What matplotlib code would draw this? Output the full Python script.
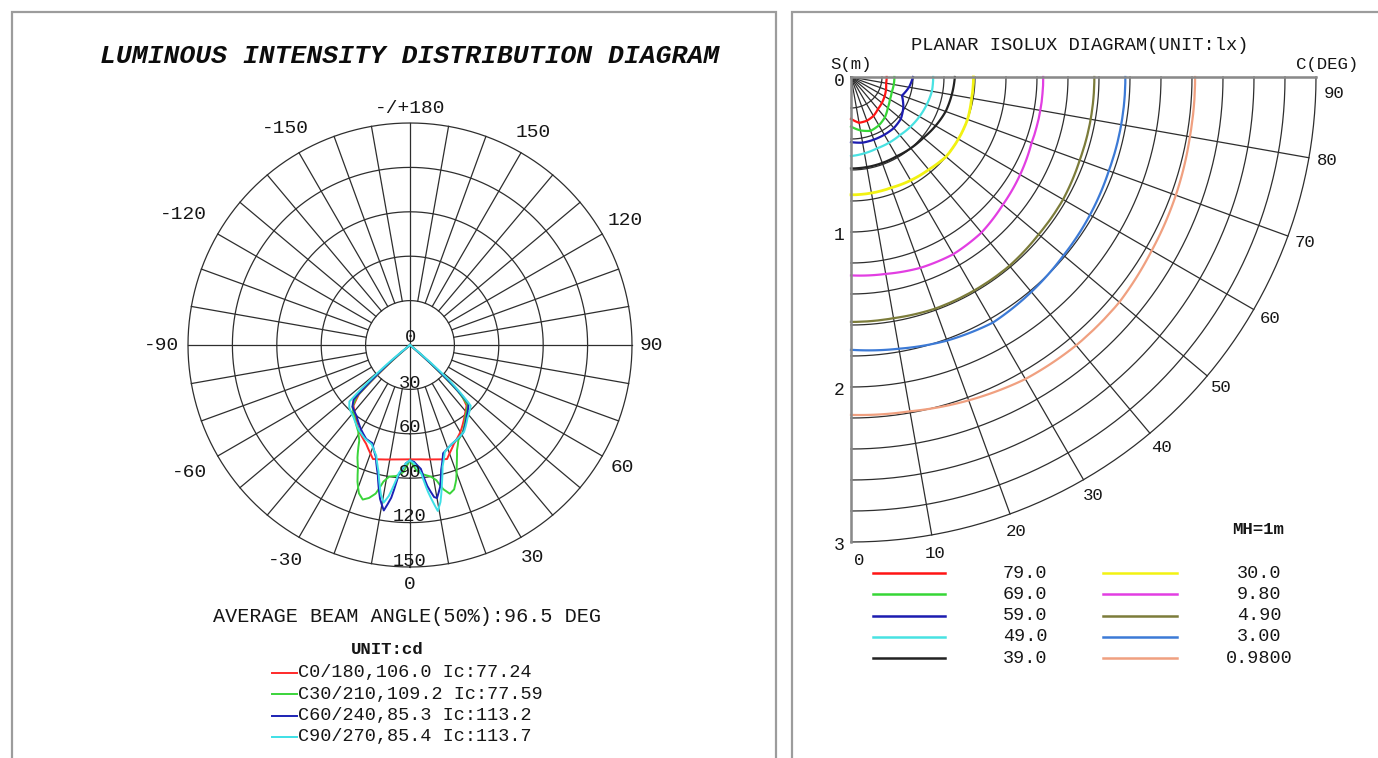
import numpy as np
import matplotlib
matplotlib.use("Agg")
import matplotlib.pyplot as plt
from matplotlib.lines import Line2D
from matplotlib.patches import Rectangle

W, H = 1378, 758
plt.rcParams['font.family'] = ['Liberation Mono', 'DejaVu Sans Mono']

# ---- luminous intensity curves: gamma (deg, negative = opposite half plane), cd
c0_gamma = [-50, -48, -46, -43, -37, -30, -24, -20, -18, -15, -10, -5, 0, 5, 10, 15, 18, 20, 24, 30, 37, 43, 46, 48, 50]
c0_cd = [0, 22, 48, 56, 61, 68, 73, 78, 81, 80, 78.5, 77.5, 77.24, 77.5, 78.5, 80, 81, 78, 73, 68, 61, 56, 48, 22, 0]

c30_gamma = [-50, -48, -46, -43, -37, -31, -28, -25, -23, -21, -19, -17, -15, -13, -11, -9, -6, -3, 0,
             3, 6, 9, 11, 13, 15, 17, 19, 21, 24, 27, 31, 38, 44, 46, 48, 50]
c30_cd = [0, 25, 50, 57, 62, 68, 73, 84, 90, 99, 106, 109.2, 107, 103, 94, 90, 89, 86, 77.59,
          85, 88, 90, 93, 100, 104, 102, 96, 88, 78, 72, 69, 61, 56, 45, 20, 0]

c60_gamma = [-51, -48, -46, -43, -37, -30, -25, -21, -17, -14, -11, -9, -7, -5, -2, 0,
             2, 5, 7, 9, 10, 12, 14, 17, 22, 27, 31, 38, 45, 47, 50]
c60_cd = [0, 30, 53, 57, 60, 66, 70, 71, 79, 90, 106, 113.2, 104, 88, 80, 78,
          79, 84, 96, 104, 105, 98, 87, 76.5, 73, 71, 69.5, 62, 56, 38, 0]

c90_gamma = [-52, -49, -47, -44, -38, -31, -26, -21, -17, -14, -11, -9.5, -8, -5, -2, 0,
             2, 5, 7, 9.5, 11, 13, 15, 18, 22, 27, 32, 38, 45, 48, 51]
c90_cd = [0, 32, 56, 59, 62, 67, 70, 72, 78, 88, 103, 108, 103, 87, 80, 78,
          80, 87, 100, 113.7, 108, 96, 85, 76, 73, 71, 69, 63, 58, 36, 0]

curve_labels = ['C0/180,106.0 Ic:77.24', 'C30/210,109.2 Ic:77.59',
                'C60/240,85.3 Ic:113.2', 'C90/270,85.4 Ic:113.7']
curve_colors = ['#ff2a2a', '#3ad43a', '#1c22b4', '#3ee0e6']

ring_values = [30, 60, 90, 120, 150]
angle_ticks = [0, 30, 60, 90, 120, 150, 180, -30, -60, -90, -120, -150]
angle_text = ['0', '30', '60', '90', '120', '150', '-/+180', '-30', '-60', '-90', '-120', '-150']
angle_r = [162, 166, 166, 163, 168, 166, 160, 168, 172, 168, 177, 169]

# ---- planar isolux: radius (m) of each isoline at C = 0..90 deg
c_angles = [0, 10, 20, 30, 40, 50, 60, 70, 80, 90]
r_79 = [0.27, 0.30, 0.30, 0.29, 0.27, 0.26, 0.25, 0.24, 0.23, 0.23]
r_69 = [0.32, 0.35, 0.37, 0.36, 0.34, 0.31, 0.29, 0.28, 0.28, 0.28]
r_59 = [0.42, 0.43, 0.43, 0.43, 0.43, 0.42, 0.39, 0.35, 0.38, 0.40]
r_49 = [0.51, 0.50, 0.49, 0.49, 0.49, 0.50, 0.51, 0.52, 0.53, 0.53]
r_39 = [0.59, 0.59, 0.59, 0.59, 0.60, 0.61, 0.63, 0.65, 0.66, 0.67]
r_30 = [0.76, 0.76, 0.76, 0.77, 0.78, 0.80, 0.80, 0.80, 0.79, 0.79]
r_9_8 = [1.28, 1.29, 1.31, 1.32, 1.31, 1.28, 1.26, 1.24, 1.24, 1.24]
r_4_9 = [1.58, 1.58, 1.59, 1.59, 1.59, 1.58, 1.58, 1.57, 1.57, 1.57]
r_3_0 = [1.76, 1.78, 1.81, 1.83, 1.81, 1.79, 1.78, 1.77, 1.77, 1.77]
r_0_98 = [2.18, 2.19, 2.22, 2.25, 2.26, 2.26, 2.24, 2.23, 2.22, 2.22]
lux_labels = ['79.0', '69.0', '59.0', '49.0', '39.0', '30.0', '9.80', '4.90', '3.00', '0.9800']
lux_colors = ['#ff1414', '#36d636', '#1c1cb0', '#48e2e2', '#222222',
              '#f2f212', '#e23ee2', '#7c7c3a', '#3c7ad6', '#f0a080']
s_ticks = [0, 1, 2, 3]
c_ticks = [0, 10, 20, 30, 40, 50, 60, 70, 80, 90]

grid_c = '#2e2e2e'
frame_c = '#9c9c9c'
txt_c = '#161616'


def fx(px):
    return px / W


def fy(py):
    return 1 - py / H


def fbox(x0, y0, x1, y1):
    return [x0 / W, 1 - y1 / H, (x1 - x0) / W, (y1 - y0) / H]


fig = plt.figure(figsize=(W / 100, H / 100), dpi=100)
fig.patch.set_facecolor('white')

# panel frames
for x0, x1 in [(12, 776), (792, 1400)]:
    fig.add_artist(Rectangle((fx(x0), fy(780)), fx(x1 - x0), (780 - 12) / H,
                             transform=fig.transFigure, fill=False,
                             edgecolor=frame_c, lw=1.6))

# ---------------- luminous intensity distribution ----------------
axL = fig.add_axes(fbox(188, 123, 632, 567), projection='polar')
axL.set_theta_zero_location('S')
axL.set_theta_direction(1)
axL.set_ylim(0, 150)
axL.set_xticks([])
axL.set_yticks([])
axL.grid(False)
for sp in axL.spines.values():
    sp.set_visible(False)

full = np.linspace(0, 2 * np.pi, 721)
for rv in ring_values:
    axL.plot(full, np.full_like(full, rv), color=grid_c, lw=0.9, clip_on=False)
for a in range(0, 360, 10):
    r0 = 0 if a % 90 == 0 else 30
    axL.plot([np.deg2rad(a)] * 2, [r0, 150], color=grid_c, lw=0.9, clip_on=False)

for g, cd, col in zip([c0_gamma, c30_gamma, c60_gamma, c90_gamma],
                      [c0_cd, c30_cd, c60_cd, c90_cd], curve_colors):
    ln, = axL.plot(np.deg2rad(g), cd, color=col, lw=1.4, zorder=3)
    ln.get_path()._interpolation_steps = 8   # spiral segments between samples

for a, s, r in zip(angle_ticks, angle_text, angle_r):
    axL.text(np.deg2rad(a), r, s, ha='center', va='center', fontsize=14, color=txt_c)
axL.text(np.pi, 5, '0', ha='center', va='center', fontsize=13.5, color=txt_c)
for rv in ring_values:
    axL.text(0, rv - 4, str(rv), ha='center', va='center', fontsize=13.5,
             color=txt_c, zorder=4)

fig.text(fx(410), fy(56), 'LUMINOUS INTENSITY DISTRIBUTION DIAGRAM', ha='center',
         va='center', fontsize=19, fontweight='bold', style='italic', color='#0c0c0c')
fig.text(fx(407), fy(617), 'AVERAGE BEAM ANGLE(50%):96.5 DEG', ha='center',
         va='center', fontsize=14.5, color=txt_c)
fig.text(fx(387), fy(649), 'UNIT:cd', ha='center', va='center', fontsize=12.5,
         fontweight='bold', color=txt_c)
for i, (lab, col) in enumerate(zip(curve_labels, curve_colors)):
    yy = fy(673 + i * 21.3)
    fig.add_artist(Line2D([fx(272), fx(297)], [yy, yy], color=col, lw=1.4,
                          transform=fig.transFigure))
    fig.text(fx(298), yy, lab, ha='left', va='center', fontsize=13.3, color=txt_c)

# ---------------- planar isolux diagram ----------------
axR = fig.add_axes(fbox(851, 77, 1316, 542), projection='polar')
axR.set_theta_zero_location('S')
axR.set_theta_direction(1)
axR.set_thetamin(0)
axR.set_thetamax(90)
axR.set_ylim(0, 3)
axR.set_xticks([])
axR.set_yticks([])
axR.grid(False)
for sp in axR.spines.values():
    sp.set_visible(False)

quarter = np.linspace(0, np.pi / 2, 181)
for k in range(1, 16):
    axR.plot(quarter, np.full_like(quarter, 0.2 * k), color=grid_c, lw=0.9, clip_on=False)
for c in range(10, 90, 10):
    axR.plot([np.deg2rad(c)] * 2, [0, 3], color=grid_c, lw=0.9, clip_on=False)
for c in [0, 90]:
    axR.plot([np.deg2rad(c)] * 2, [0, 3], color='#8a8a8a', lw=1.8, clip_on=False, zorder=5)

iso_radii = [r_79, r_69, r_59, r_49, r_39, r_30, r_9_8, r_4_9, r_3_0, r_0_98]
for rr, col in zip(iso_radii, lux_colors):
    lw = 2.0 if col == '#f2f212' else 1.6
    ln, = axR.plot(np.deg2rad(c_angles), rr, color=col, lw=lw, zorder=3, clip_on=False)
    ln.get_path()._interpolation_steps = 16

for s in s_ticks:
    axR.annotate(str(s), xy=(0, s), xytext=(-12, -4), textcoords='offset pixels',
                 ha='center', va='center', fontsize=13, color=txt_c)
for c in c_ticks:
    axR.text(np.deg2rad(np.clip(c, 1, 88)), 3.12, str(c), ha='center', va='center',
             fontsize=12.5, color=txt_c)

fig.text(fx(1080), fy(45), 'PLANAR ISOLUX DIAGRAM(UNIT:lx)', ha='center', va='center',
         fontsize=13.5, color=txt_c)
fig.text(fx(851), fy(65), 'S(m)', ha='center', va='center', fontsize=12.5, color=txt_c)
fig.text(fx(1327), fy(65), 'C(DEG)', ha='center', va='center', fontsize=12.5, color=txt_c)
fig.text(fx(1258), fy(530), 'MH=1m', ha='center', va='center', fontsize=12.5,
         fontweight='bold', color=txt_c)

for i, (lab, col) in enumerate(zip(lux_labels, lux_colors)):
    col_i, row = divmod(i, 5)
    yy = fy(573 + row * 21.3)
    lx0, lx1, tx = [(873, 945, 1025), (1103, 1177, 1259)][col_i]
    fig.add_artist(Line2D([fx(lx0), fx(lx1)], [yy, yy], color=col, lw=1.8,
                          transform=fig.transFigure))
    fig.text(fx(tx), yy, lab, ha='center', va='center', fontsize=13.3, color=txt_c)

fig.savefig('out.png', dpi=100, facecolor='white')
